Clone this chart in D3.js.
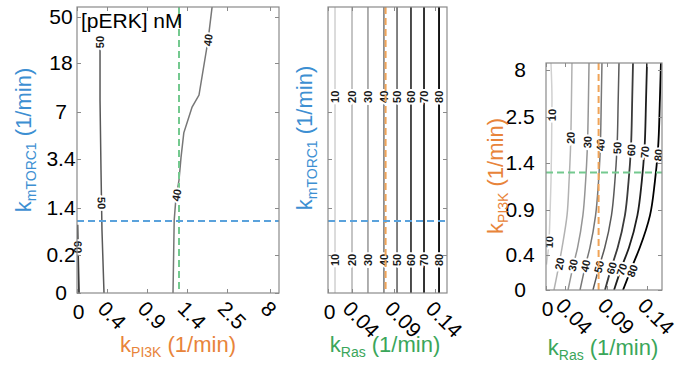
<!DOCTYPE html>
<html>
<head>
<meta charset="utf-8">
<script src="https://cdn.jsdelivr.net/npm/d3@7"></script>
<style>
  body { margin: 0; background: #fff; }
  svg { display: block; }
  text { font-family: "Liberation Sans", Arial, Helvetica, sans-serif; }
</style>
</head>
<body>
<svg id="chart" width="678" height="367"></svg>
<script>
// contour levels of [pERK] (nM)
const levels = [10, 20, 30, 40, 50, 60, 70, 80];

// tick labels
const pi3kTicks = [0, 0.4, 0.9, 1.4, 2.5, 8];
const mtorc1Ticks = [0, 0.2, 1.4, 3.4, 7, 18, 50];
const rasTicks = [0, 0.04, 0.09, 0.14];

// nominal parameter values (dashed lines)
const nominalPI3K = 1.3;
const nominalMTORC1 = 1.07;
const nominalRas = 0.08;

// panel 1: points are [kPI3K, kmTORC1]
const p1Contour40 = [[2.09, 60], [1.98, 34], [1.73, 10.8], [1.54, 8.1], [1.36, 5.4], [1.325, 3.5], [1.3, 2.54], [1.26, 1.73], [1.24, 1.09], [1.225, 0]];
const p1Contour50 = [[0.307, 32.6], [0.307, 9.7], [0.32, 2.95], [0.333, 0.84], [0.36, 0]];
const p1Contour60 = [[0.007, 0.97], [0.013, 0.33], [0.027, 0]];
const p1LabelLevels = [50, 50, 40, 40, 60];
const p1LabelPI3K = [0.307, 0.328, 1.98, 1.27, 0.013];
const p1LabelMTORC1 = [32.6, 1.6, 34, 1.93, 0.4];

// panel 2: kRas of each (vertical) contour, kmTORC1 of the two label rows
const p2RasContours = [0.0117, 0.04, 0.059, 0.078, 0.0937, 0.1107, 0.1266, 0.1457];
const p2LabelMTORC1 = [10.4, 0.174];

// panel 3: kRas of each contour at these kPI3K rows
const p3PI3KRows = [8.8, 4.5, 1.71, 1.2, 0.84, 0.48, 0.29, 0];
const p3Ras10 = [0.0105, 0.0126, 0.0116, 0.0105, 0.0084, 0.0053, 0.001, null];
const p3Ras20 = [0.0483, 0.0477, 0.0465, 0.0448, 0.0424, 0.0337, 0.0274, 0.0168];
const p3Ras30 = [0.0686, 0.0679, 0.0665, 0.0645, 0.0613, 0.0549, 0.0501, 0.0436];
const p3Ras40 = [0.084, 0.0832, 0.0819, 0.0799, 0.0764, 0.0696, 0.0646, 0.0579];
const p3Ras50 = [0.105, 0.104, 0.1024, 0.0998, 0.0956, 0.0873, 0.0814, 0.0733];
const p3Ras60 = [0.1225, 0.1215, 0.1198, 0.1169, 0.1124, 0.1033, 0.0966, 0.0876];
const p3Ras70 = [0.14, 0.1388, 0.1368, 0.1334, 0.128, 0.1174, 0.1095, 0.0988];
const p3Ras80 = [0.1558, 0.1546, 0.1524, 0.1489, 0.1434, 0.1309, 0.1224, 0.11];
const p3LabelUpperRas = [0.0125, 0.0466, 0.0667, 0.0822, 0.1028, 0.1203, 0.1372, 0.1528];
const p3LabelUpperPI3K = [2.73, 2.0, 1.9, 1.83, 1.76, 1.71, 1.66, 1.59];
const p3LabelLowerRas = [0.0063, 0.0285, 0.0495, 0.0643, 0.0805, 0.0958, 0.1085, 0.1215];
const p3LabelLowerPI3K = [0.544, 0.3, 0.285, 0.275, 0.265, 0.25, 0.235, 0.22];

const svg = d3.select('#chart');
const grey = d3.scaleLinear().domain([10, 80]).range(['#d0d0d0', '#000000']);
const boxColor = '#8a8a8a';
const blue = '#3d8fd2', orange = '#e8843a', green = '#3aa65a';

// scales (tick values sit at uneven grid positions)
const x1 = d3.scaleLinear().domain([0, 0.4, 0.9, 1.4, 2.5, 8, 10]).range([77, 107, 147, 187, 227, 270, 279]);
const y1 = d3.scaleLinear().domain([0, 0.2, 1.4, 3.4, 7, 18, 50, 60]).range([293, 255, 208, 159, 112, 63, 17, 7]);
const x2 = d3.scaleLinear().domain([0, 0.04, 0.09, 0.14, 0.157]).range([328, 352, 394, 435, 447]);
const y2 = y1.copy();
const x3 = d3.scaleLinear().domain([0, 0.04, 0.09, 0.14, 0.157]).range([546, 565, 607, 647, 662]);
const y3 = d3.scaleLinear().domain([0, 0.4, 0.9, 1.4, 2.5, 8, 8.8]).range([290, 255, 210, 163, 117, 70, 63]);

function bounds(x, y) {
  const xr = x.range(), yr = y.range();
  return { left: xr[0], right: xr[xr.length - 1], bottom: yr[0], top: yr[yr.length - 1] };
}

function plotArea(id, x, y) {
  const b = bounds(x, y);
  svg.append('clipPath').attr('id', id).append('rect')
    .attr('x', b.left).attr('y', b.top)
    .attr('width', b.right - b.left).attr('height', b.bottom - b.top);
  return svg.append('g').attr('clip-path', `url(#${id})`);
}

function drawContours(plot, x, y, lines, curve) {
  const gen = d3.line()
    .defined(d => d[0] != null)
    .x(d => x(d[0]))
    .y(d => y(d[1]))
    .curve(curve);
  plot.selectAll(null).data(lines).join('path')
    .attr('d', d => gen(d.points))
    .attr('fill', 'none')
    .attr('stroke', d => grey(d.level))
    .attr('stroke-width', d => d.level >= 60 ? 1.8 : 1.5);
}

// angle of the contour near a label, kept readable
function angleAt(points, x, y, px, py) {
  let best = Infinity, ang = -90;
  for (let i = 0; i < points.length - 1; i++) {
    if (points[i][0] == null || points[i + 1][0] == null) continue;
    const ax = x(points[i][0]), ay = y(points[i][1]);
    const bx = x(points[i + 1][0]), by = y(points[i + 1][1]);
    const dx = bx - ax, dy = by - ay;
    const t = Math.max(0, Math.min(1, ((px - ax) * dx + (py - ay) * dy) / (dx * dx + dy * dy)));
    const d = Math.hypot(ax + t * dx - px, ay + t * dy - py);
    if (d < best) { best = d; ang = Math.atan2(dy, dx) * 180 / Math.PI; }
  }
  if (ang >= 90) ang -= 180;
  if (ang < -90) ang += 180;
  return ang;
}

function drawLabels(g, x, y, labels, lines) {
  labels.forEach(l => {
    const pts = lines.find(c => c.level === l.level).points;
    const px = x(l.at[0]), py = y(l.at[1]);
    g.append('text')
      .attr('transform', `translate(${px},${py}) rotate(${angleAt(pts, x, y, px, py)})`)
      .attr('text-anchor', 'middle')
      .attr('dy', '0.36em')
      .attr('font-size', 11)
      .attr('font-weight', 'bold')
      .attr('fill', '#1a1a1a')
      .attr('stroke', '#fff')
      .attr('stroke-width', 4)
      .attr('paint-order', 'stroke')
      .text(l.level);
  });
}

function dashed(plot, x, y, value, vertical, color) {
  const b = bounds(x, y);
  const ln = plot.append('line')
    .attr('stroke', color).attr('stroke-width', 2).attr('stroke-dasharray', '7,4');
  if (vertical) ln.attr('x1', x(value)).attr('x2', x(value)).attr('y1', b.top).attr('y2', b.bottom);
  else ln.attr('y1', y(value)).attr('y2', y(value)).attr('x1', b.left).attr('x2', b.right);
}

function frame(x, y, xTicks, yTicks, yLabelDx) {
  const b = bounds(x, y);
  const g = svg.append('g');
  const bottom = g.append('g').attr('transform', `translate(0,${b.bottom})`)
    .call(d3.axisBottom(x).tickValues(xTicks).tickSize(-4).tickFormat(String));
  const top = g.append('g').attr('transform', `translate(0,${b.top})`)
    .call(d3.axisTop(x).tickValues(xTicks).tickSize(-4).tickFormat(''));
  const left = g.append('g').attr('transform', `translate(${b.left},0)`)
    .call(d3.axisLeft(y).tickValues(yTicks).tickSize(-4).tickFormat(yLabelDx == null ? '' : String));
  const right = g.append('g').attr('transform', `translate(${b.right},0)`)
    .call(d3.axisRight(y).tickValues(yTicks).tickSize(-4).tickFormat(''));
  [bottom, top, left, right].forEach(a => {
    a.select('.domain').remove();
    a.selectAll('line').attr('stroke', boxColor);
    a.attr('font-size', 21).attr('font-family', null);
  });
  bottom.selectAll('text').each(function (d) {
    const t = d3.select(this).attr('fill', '#000').attr('dy', null);
    if (d === 0) t.attr('x', 1).attr('y', 26).attr('text-anchor', 'middle');
    else t.attr('x', 0).attr('y', 0).attr('text-anchor', 'start')
      .attr('transform', 'translate(-11,17) rotate(45)');
  });
  if (yLabelDx != null) {
    left.selectAll('text').attr('fill', '#000').attr('x', -yLabelDx).attr('text-anchor', 'middle');
  }
  g.append('rect')
    .attr('x', b.left).attr('y', b.top)
    .attr('width', b.right - b.left).attr('height', b.bottom - b.top)
    .attr('fill', 'none').attr('stroke', boxColor).attr('stroke-width', 1.2);
}

function axisTitle(x, y, rot, sub, color) {
  const t = svg.append('text')
    .attr('transform', `translate(${x},${y}) rotate(${rot})`)
    .attr('text-anchor', 'middle')
    .attr('font-size', 22)
    .attr('fill', color);
  t.append('tspan').text('k');
  t.append('tspan').attr('font-size', 14).attr('dy', 5).text(sub);
  t.append('tspan').attr('dy', -5).text(' (1/min)');
}

// ---- panel 1 ----
const p1Lines = [
  { level: 40, points: p1Contour40 },
  { level: 50, points: p1Contour50 },
  { level: 60, points: p1Contour60 }
];
const plot1 = plotArea('clip1', x1, y1);
drawContours(plot1, x1, y1, p1Lines, d3.curveLinear);
drawLabels(svg.append('g'), x1, y1, p1LabelLevels.map((lv, i) => ({ level: lv, at: [p1LabelPI3K[i], p1LabelMTORC1[i]] })), p1Lines);
dashed(plot1, x1, y1, nominalPI3K, true, '#74c98f');
dashed(plot1, x1, y1, nominalMTORC1, false, '#5aa2dc');
frame(x1, y1, pi3kTicks, mtorc1Ticks, 16);

// ---- panel 2 ----
const p2Lines = levels.map((lv, i) => ({ level: lv, points: [[p2RasContours[i], 0], [p2RasContours[i], 60]] }));
const plot2 = plotArea('clip2', x2, y2);
drawContours(plot2, x2, y2, p2Lines, d3.curveLinear);
drawLabels(plot2, x2, y2, p2LabelMTORC1.flatMap(m => levels.map((lv, i) => ({ level: lv, at: [p2RasContours[i], m] }))), p2Lines);
dashed(plot2, x2, y2, nominalRas, true, '#f0a458');
dashed(plot2, x2, y2, nominalMTORC1, false, '#5aa2dc');
frame(x2, y2, rasTicks, mtorc1Ticks.slice(1, 5), null);

// ---- panel 3 ----
const p3Series = [p3Ras10, p3Ras20, p3Ras30, p3Ras40, p3Ras50, p3Ras60, p3Ras70, p3Ras80];
const p3Lines = levels.map((lv, i) => ({ level: lv, points: p3Series[i].map((r, j) => [r, p3PI3KRows[j]]) }));
const plot3 = plotArea('clip3', x3, y3);
drawContours(plot3, x3, y3, p3Lines, d3.curveMonotoneY);
drawLabels(plot3, x3, y3, levels.flatMap((lv, i) => [
  { level: lv, at: [p3LabelUpperRas[i], p3LabelUpperPI3K[i]] },
  { level: lv, at: [p3LabelLowerRas[i], p3LabelLowerPI3K[i]] }
]), p3Lines);
dashed(plot3, x3, y3, nominalRas, true, '#f0a458');
dashed(plot3, x3, y3, nominalPI3K, false, '#74c98f');
frame(x3, y3, rasTicks, pi3kTicks, 26);

// ---- texts ----
svg.append('text').attr('x', 81).attr('y', 28).attr('font-size', 21).attr('fill', '#000').text('[pERK] nM');
axisTitle(178, 352, 0, 'PI3K', orange);
axisTitle(31, 140, -90, 'mTORC1', blue);
axisTitle(385, 352, 0, 'Ras', green);
axisTitle(312, 138, -90, 'mTORC1', blue);
axisTitle(603, 355, 0, 'Ras', green);
axisTitle(503, 176, -90, 'PI3K', orange);
</script>
</body>
</html>
